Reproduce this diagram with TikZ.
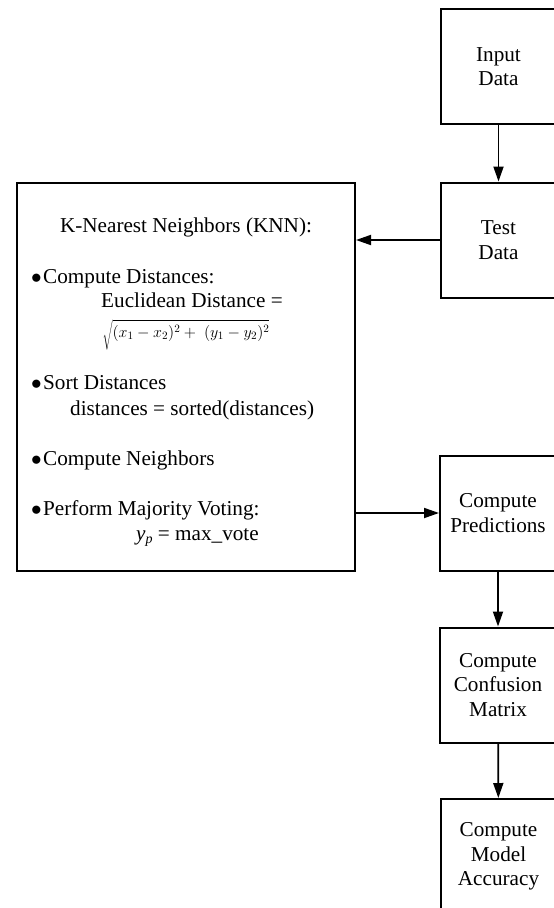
\RequirePackage{fix-cm}
\documentclass[tikz,border=0pt]{standalone}
\usepackage{fontspec}
\setmainfont{Liberation Serif}
\usetikzlibrary{arrows.meta}
\newcommand{\knnfs}{\fontsize{21.2}{24.4}\selectfont}
\newcommand{\knnbul}{\makebox[12pt][l]{$\bullet$}}
\begin{document}
\begin{tikzpicture}[x=1pt,y=-1pt,
  bord/.style={draw=black, line width=2pt},
  rbox/.style={bord, minimum width=116pt, minimum height=115pt, inner sep=0pt, align=center, font=\knnfs},
  txt/.style={inner sep=0pt, font=\knnfs},
  arr/.style={line width=1.8pt, -{Triangle[length=15pt,width=10pt]}}]
\useasboundingbox (0,0) rectangle (554,908);
\clip (0,0) rectangle (554,908);
% right column boxes
\node[rbox] (input) at (498.5,66.5) {Input\\Data};
\node[rbox] (test) at (498.5,240) {Test\\Data};
\node[rbox] (pred) at (498,513) {Compute\\Predictions};
\node[rbox] (conf) at (498,685) {Compute\\Confusion\\Matrix};
\node[rbox] (acc) at (498.5,856.5) {Compute\\Model\\Accuracy};
% KNN box
\node[bord, minimum width=338pt, minimum height=388pt, inner sep=0pt] (knn) at (186,377) {};
\node[txt, anchor=base] (k1) at (186,232) {K-Nearest Neighbors (KNN):};
\node[txt, anchor=base west] (b1) at (31,283) {\knnbul Compute Distances:};
\node[txt, anchor=base west] (e1) at (101,307) {Euclidean Distance =};
\node[inner sep=0pt, anchor=base] (eq) at (186,337) {\fontsize{16}{18}\selectfont$\sqrt{\rule[-12pt]{0pt}{27pt}(x_1-x_2)^2+\;(y_1-y_2)^2}$};
\node[txt, anchor=base west] (b2) at (31,389) {\knnbul Sort Distances};
\node[txt, anchor=base west] (s2) at (70,415) {distances = sorted(distances)};
\node[txt, anchor=base west] (b3) at (31,465) {\knnbul Compute Neighbors};
\node[txt, anchor=base west] (b4) at (31,515) {\knnbul Perform Majority Voting:};
\node[txt, anchor=base west] (p2) at (136,540) {\textit{y}\raisebox{-3pt}{\fontsize{14}{14}\selectfont\itshape p} = max\_vote};
% connectors
\draw[arr] (input) -- (test);
\draw[arr] (test.west) -- (test.west -| knn.east);
\draw[arr] (knn.east |- pred.west) -- (pred.west);
\draw[arr] (pred) -- (conf);
\draw[arr] (conf) -- (acc);
\end{tikzpicture}
\end{document}
